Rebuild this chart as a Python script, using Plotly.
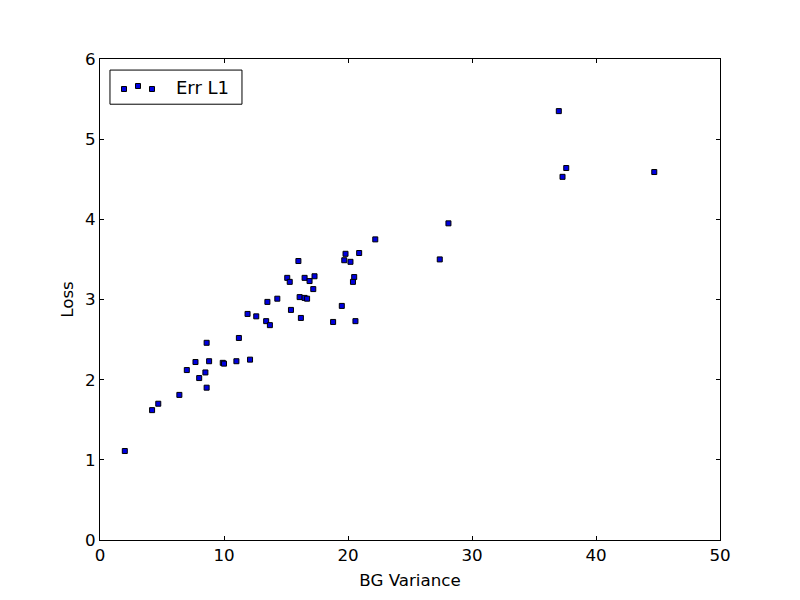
import plotly.graph_objects as go

# values
bg_variance = [2.0, 4.2, 4.7, 6.4, 7.0, 7.7, 8.0, 8.5, 8.6, 8.6, 8.8, 9.9, 10.0,
               11.0, 12.1, 11.2, 11.9, 12.6, 13.4, 13.7, 13.5, 14.3, 15.1, 15.3,
               15.4, 16.0, 16.1, 16.2, 16.5, 16.7, 16.5, 16.9, 17.3, 17.2, 18.8,
               19.5, 20.6, 19.7, 19.8, 20.2, 20.9, 20.5, 20.4, 22.2, 27.4, 28.1,
               37.0, 37.6, 37.3, 44.7]
loss = [1.11, 1.62, 1.70, 1.81, 2.12, 2.22, 2.02, 2.09, 1.90, 2.46, 2.23, 2.21, 2.20,
        2.23, 2.25, 2.52, 2.82, 2.79, 2.73, 2.68, 2.97, 3.01, 3.27, 3.22,
        2.87, 3.48, 3.03, 2.77, 3.02, 3.01, 3.27, 3.23, 3.29, 3.13, 2.72,
        2.92, 2.73, 3.49, 3.57, 3.47, 3.58, 3.28, 3.22, 3.75, 3.50, 3.95,
        5.35, 4.64, 4.53, 4.59]

x_ticks = [0, 10, 20, 30, 40, 50]
y_ticks = [0, 1, 2, 3, 4, 5, 6]
series_name = 'Err L1'

MARKER_COLOR = '#0000e0'
FONT_SIZE = 16.7

fig = go.Figure()

fig.add_trace(go.Scatter(
    x=bg_variance,
    y=loss,
    mode='markers',
    name=series_name,
    showlegend=False,
    marker=dict(symbol='square', size=5, color=MARKER_COLOR,
                line=dict(color='black', width=1))
))

axis_style = dict(
    showgrid=False,
    zeroline=False,
    showline=True,
    linecolor='black',
    linewidth=1,
    mirror='allticks',
    ticks='inside',
    ticklen=4,
    tickcolor='black',
    tickfont=dict(size=FONT_SIZE, color='black'),
)

fig.update_xaxes(range=[0, 50], tickvals=x_ticks,
                 title=dict(text='BG Variance', font=dict(size=FONT_SIZE, color='black'), standoff=10),
                 **axis_style)
fig.update_yaxes(range=[0, 6], tickvals=y_ticks,
                 title=dict(text='Loss', font=dict(size=FONT_SIZE, color='black'), standoff=7),
                 **axis_style)

# matplotlib-style legend box with three sample markers
fig.add_shape(type='rect', xref='paper', yref='paper',
              x0=0.0161, x1=0.229, y0=0.906, y1=0.977,
              line=dict(color='black', width=1), fillcolor='white', layer='above')
for px_x, px_y in [(124, 89), (138, 86), (152, 89)]:
    cx = (px_x - 100) / 620
    cy = (540 - px_y) / 481
    fig.add_shape(type='rect', xref='paper', yref='paper',
                  xsizemode='pixel', ysizemode='pixel',
                  xanchor=cx, yanchor=cy, x0=-2.5, x1=2.5, y0=-2.5, y1=2.5,
                  line=dict(color='black', width=1), fillcolor=MARKER_COLOR, layer='above')
fig.add_annotation(text=series_name, xref='paper', yref='paper',
                   x=(174 - 100) / 620, y=(540 - 87) / 481,
                   xanchor='left', yanchor='middle', showarrow=False,
                   font=dict(size=18, color='black'))

# page body adds an 8px offset, so margins are shifted to compensate
fig.update_layout(
    width=800,
    height=600,
    margin=dict(l=92, r=88, t=51, b=68),
    paper_bgcolor='white',
    plot_bgcolor='white',
    font=dict(family='DejaVu Sans', color='black'),
    showlegend=False,
)

fig.write_html("out.html")
